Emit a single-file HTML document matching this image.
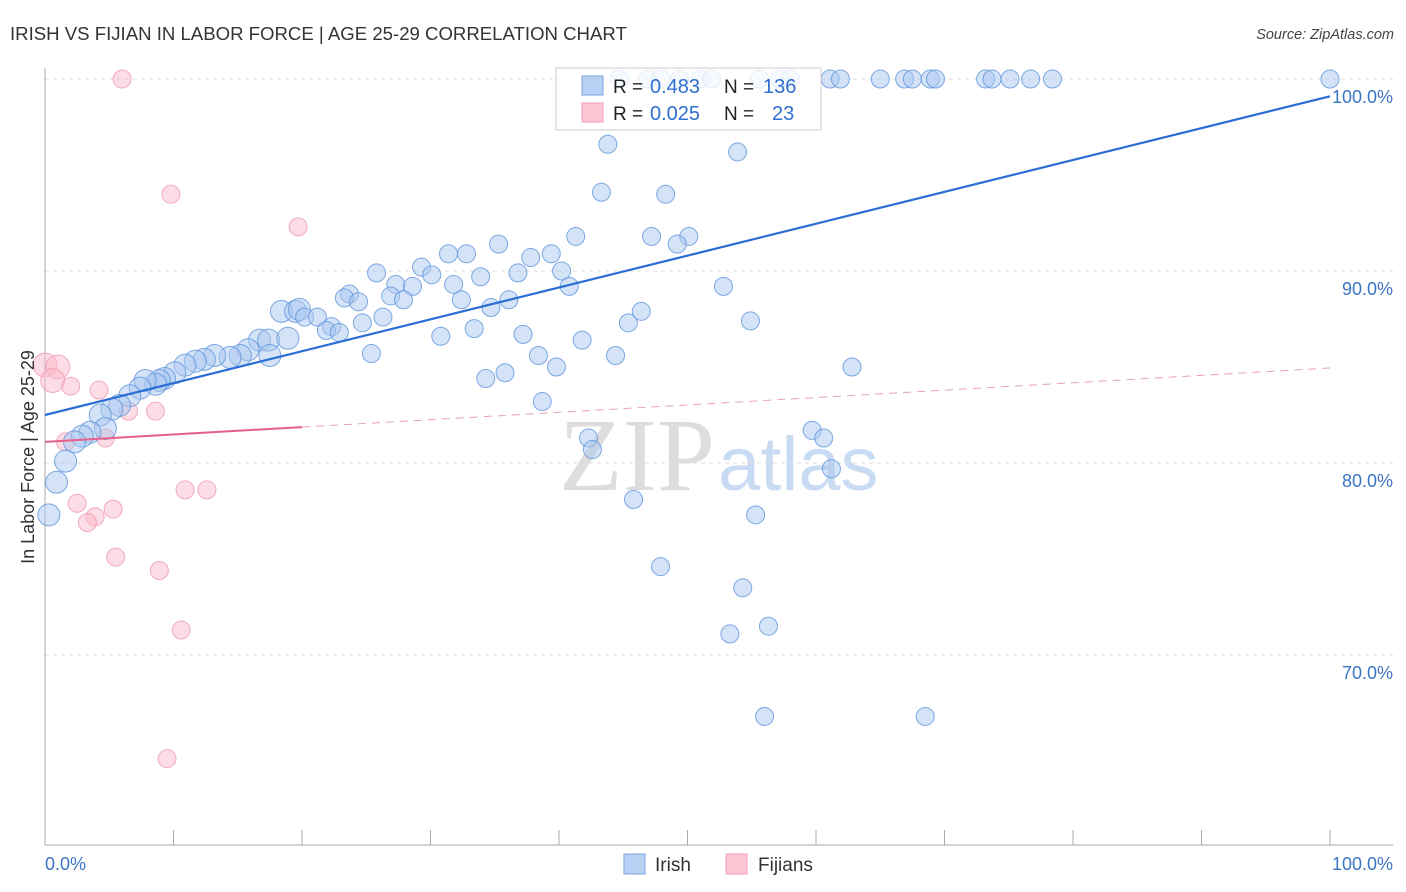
<!DOCTYPE html>
<html><head><meta charset="utf-8"><style>
body{margin:0;background:#fff;font-family:"Liberation Sans",sans-serif;}
#wrap{position:relative;width:1406px;height:892px;overflow:hidden;}
svg{position:absolute;left:0;top:0;}
</style></head><body>
<div id="wrap">
<svg id="chart" width="1406" height="892">
<text x="10" y="40" font-size="18.6" fill="#333">IRISH VS FIJIAN IN LABOR FORCE | AGE 25-29 CORRELATION CHART</text>
<text x="1394" y="39" font-size="14.5" fill="#444" font-style="italic" text-anchor="end">Source: ZipAtlas.com</text>
<text x="715" y="490" font-size="104" fill="#ddd" text-anchor="end" font-family="Liberation Serif,serif">ZIP</text>
<text x="718" y="490" font-size="76" fill="#c9dbf2">atlas</text>
<g id="grid"></g><g id="axes"></g><g id="marks"></g><g id="lines"></g>
<text transform="translate(34,457) rotate(-90)" font-size="18" fill="#333" text-anchor="middle">In Labor Force | Age 25-29</text>
<text x="45" y="870" font-size="18" fill="#3a75c4">0.0%</text>
<text x="1393" y="870" font-size="18" fill="#3a75c4" text-anchor="end">100.0%</text>
<g>
<rect x="556" y="68" width="265" height="62" fill="#fff" fill-opacity="0.8" stroke="#ccc"/>
<rect x="582" y="76" width="21" height="19" fill="#b7d0f3" stroke="#7aa6e0"/>
<rect x="582" y="103" width="21" height="19" fill="#fcc6d5" stroke="#f0a0b8"/>
<text x="613" y="93" font-size="19" fill="#222">R =</text>
<text x="650" y="93" font-size="20" fill="#2f6fd0">0.483</text>
<text x="724" y="93" font-size="19" fill="#222">N =</text>
<text x="763" y="93" font-size="20" fill="#2f6fd0">136</text>
<text x="613" y="120" font-size="19" fill="#222">R =</text>
<text x="650" y="120" font-size="20" fill="#2f6fd0">0.025</text>
<text x="724" y="120" font-size="19" fill="#222">N =</text>
<text x="772" y="120" font-size="20" fill="#2f6fd0">23</text>
</g>
<g>
<rect x="624" y="854" width="21" height="20" fill="#b7d0f3" stroke="#7aa6e0"/>
<text x="655" y="871" font-size="19" fill="#333">Irish</text>
<rect x="726" y="854" width="21" height="20" fill="#fcc6d5" stroke="#f0a0b8"/>
<text x="758" y="871" font-size="19" fill="#333">Fijians</text>
</g>
</svg>
</div>
<script>
const yTicks=[100,90,80,70];
const yTickLabels=["100.0%","90.0%","80.0%","70.0%"];
const xTicks=[0,10,20,30,40,50,60,70,80,90,100];
const irishX=[44.7,46.9,47.9,49.4,51.0,51.9,55.6,57.2,58.0,61.1,61.9,65.0,66.9,67.5,68.9,69.3,73.2,73.7,75.1,76.7,78.4,100,
43.8,53.9,43.3,48.3,41.3,47.2,50.1,49.2,35.3,31.4,32.8,37.8,39.4,25.8,36.8,40.2,29.3,30.1,33.9,27.3,28.6,31.8,40.8,52.8,
23.7,23.3,24.4,26.9,27.9,32.4,36.1,34.7,18.4,19.5,19.8,20.2,21.2,26.3,24.7,22.3,21.9,22.9,33.4,37.2,30.8,41.8,45.4,46.4,54.9,
16.7,17.4,18.9,25.4,38.4,44.4,39.8,62.8,34.3,35.8,38.7,17.5,15.8,15.2,14.4,13.2,12.4,11.7,10.9,10.1,9.3,8.9,8.6,7.8,7.4,6.6,5.8,5.2,4.3,4.7,3.5,2.9,2.3,1.6,0.9,0.3,
59.7,60.6,61.2,42.3,42.6,45.8,55.3,47.9,54.3,56.3,53.3,56.0,68.5];
const irishY=[100,100,100,100,100,100,100,100,100,100,100,100,100,100,100,100,100,100,100,100,100,100,
96.6,96.2,94.1,94.0,91.8,91.8,91.8,91.4,91.4,90.9,90.9,90.7,90.9,89.9,89.9,90.0,90.2,89.8,89.7,89.3,89.2,89.3,89.2,89.2,
88.8,88.6,88.4,88.7,88.5,88.5,88.5,88.1,87.9,87.9,88.0,87.6,87.6,87.6,87.3,87.1,86.9,86.8,87.0,86.7,86.6,86.4,87.3,87.9,87.4,
86.4,86.4,86.5,85.7,85.6,85.6,85.0,85.0,84.4,84.7,83.2,85.6,85.9,85.6,85.5,85.6,85.4,85.3,85.1,84.7,84.4,84.3,84.1,84.3,83.9,83.5,83.0,82.8,82.5,81.8,81.6,81.4,81.1,80.1,79.0,77.3,
81.7,81.3,79.7,81.3,80.7,78.1,77.3,74.6,73.5,71.5,71.1,66.8,66.8];
const fijiX=[6.0,9.8,19.7,0,1.0,0.6,2.0,4.2,6.5,8.6,1.6,4.7,10.9,12.6,2.5,5.3,3.9,3.3,5.5,8.9,10.6,9.5];
const fijiY=[100,94.0,92.3,85.1,85.0,84.3,84.0,83.8,82.7,82.7,81.1,81.3,78.6,78.6,77.9,77.6,77.2,76.9,75.1,74.4,71.3,64.6];
const irishFit=[82.5,99.1];
const fijiFit=[81.1,84.95];
const NS='http://www.w3.org/2000/svg';
const X=v=>45+v*12.85, Y=v=>79+(100-v)*19.2;
function mk(t,a,p){const e=document.createElementNS(NS,t);for(const k in a)e.setAttribute(k,a[k]);p.appendChild(e);return e;}
const grid=document.getElementById('grid'),axes=document.getElementById('axes'),marks=document.getElementById('marks'),lines=document.getElementById('lines');
yTicks.forEach((t,i)=>{
 const g=mk('line',{x1:45,x2:1393,y1:Y(t),y2:Y(t),stroke:'#ddd','stroke-dasharray':'4,4'},grid);
 
 
 const l=mk('text',{x:1393,y:Y(t)+24,'font-size':18,fill:'#3a75c4','text-anchor':'end'},grid);
 l.textContent=yTickLabels[i];
 
 
});
const ya=mk('line',{x1:45,x2:45,y1:68,y2:845,stroke:'#aaa'},axes);


const xa=mk('line',{x1:45,x2:1393,y1:845,y2:845,stroke:'#aaa'},axes);


xTicks.forEach(t=>{
 const k=mk('line',{x1:X(t),x2:X(t),y1:830,y2:845,stroke:'#aaa'},axes);
 
 
});
fijiX.forEach((x,i)=>{
 const c=mk('circle',{cx:X(x),cy:Y(fijiY[i]),r:(x<1.2?12:9),fill:'#f9b9cc','fill-opacity':0.5,stroke:'#ef98b3','stroke-opacity':0.8},marks);
 
 
});
irishX.forEach((x,i)=>{
 const c=mk('circle',{cx:X(x),cy:Y(irishY[i]),r:(x<20?11:9),fill:'#a9c7f0','fill-opacity':0.5,stroke:'#5f95dc','stroke-opacity':0.8},marks);
 
 
});
const bl=mk('line',{x1:X(0),y1:Y(irishFit[0]),x2:X(100),y2:Y(irishFit[1]),stroke:'#2a6dd4','stroke-width':2.2},lines);


const fy=x=>fijiFit[0]+(fijiFit[1]-fijiFit[0])*x/100;
const pl=mk('line',{x1:X(0),y1:Y(fy(0)),x2:X(20),y2:Y(fy(20)),stroke:'#e8608a','stroke-width':2},lines);


const pd=mk('line',{x1:X(20),y1:Y(fy(20)),x2:X(100),y2:Y(fy(100)),stroke:'#e8a0b8','stroke-width':1,'stroke-dasharray':'8,6'},lines);


</script>
</body></html>
